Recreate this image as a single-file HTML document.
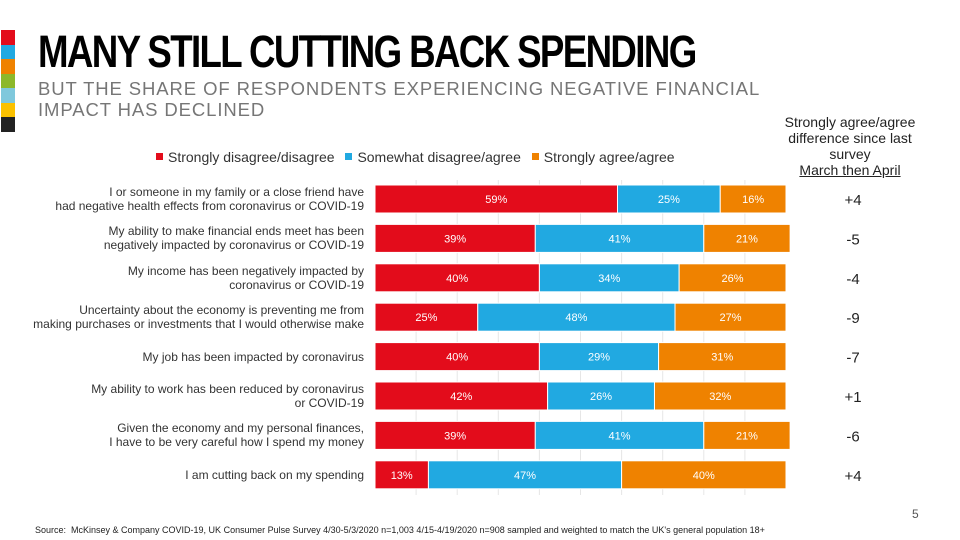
<!DOCTYPE html>
<html><head><meta charset="utf-8"><style>
body{margin:0;width:960px;height:540px;overflow:hidden;background:#fff;font-family:"Liberation Sans",sans-serif;position:relative}
.abs{position:absolute}
.lbl{position:absolute;right:596px;text-align:right;font-size:12px;color:#333;line-height:14px;width:360px}
</style></head><body>
<div class="abs" style="left:1px;top:30px;width:14px">
<div style="height:14.5px;background:#e30c1b"></div><div style="height:14.5px;background:#21a9e1"></div><div style="height:14.5px;background:#ef8200"></div><div style="height:14.5px;background:#8cb82b"></div><div style="height:14.5px;background:#7fc8dc"></div><div style="height:14.5px;background:#fbc100"></div><div style="height:14.5px;background:#222"></div>
</div>
<div class="abs" style="left:38px;top:26px;font-size:45px;font-weight:bold;letter-spacing:-2px;transform:scaleX(0.815);transform-origin:left top;white-space:nowrap;color:#000">MANY STILL CUTTING BACK SPENDING</div>
<div class="abs" style="left:38px;top:78px;font-size:18.5px;letter-spacing:0.9px;color:#767676;line-height:21px;width:740px">BUT THE SHARE OF RESPONDENTS EXPERIENCING NEGATIVE FINANCIAL IMPACT HAS DECLINED</div>
<div class="abs" style="left:770px;top:114px;width:160px;text-align:center;font-size:14px;line-height:16px;color:#222">Strongly agree/agree difference since last survey<br><u>March then April</u></div>
<div class="abs" style="left:156px;top:149px;font-size:14px;color:#333;white-space:nowrap">
<span><span style="display:inline-block;width:7px;height:7px;background:#e30c1b;margin-right:5px;vertical-align:2px"></span>Strongly disagree/disagree</span>
<span style="margin-left:7px"><span style="display:inline-block;width:7px;height:7px;background:#21a9e1;margin-right:5px;vertical-align:2px"></span>Somewhat disagree/agree</span>
<span style="margin-left:7px"><span style="display:inline-block;width:7px;height:7px;background:#ef8200;margin-right:5px;vertical-align:2px"></span>Strongly agree/agree</span>
</div>
<svg id="chart" class="abs" style="left:0;top:0" width="960" height="540"></svg>
<div id="labels"></div>
<div class="abs" style="left:912px;top:507px;font-size:12px;color:#555">5</div>
<div class="abs" style="left:35px;top:525px;font-size:9px;color:#222;white-space:nowrap">Source:&nbsp; McKinsey &amp; Company COVID-19, UK Consumer Pulse Survey 4/30-5/3/2020 n=1,003 4/15-4/19/2020 n=908 sampled and weighted to match the UK's general population 18+</div>
<script>
const categories=["I or someone in my family or a close friend have<br>had negative health effects from coronavirus or COVID-19","My ability to make financial ends meet has been<br>negatively impacted by coronavirus or COVID-19","My income has been negatively impacted by<br>coronavirus or COVID-19","Uncertainty about the economy is preventing me from<br>making purchases or investments that I would otherwise make","My job has been impacted by coronavirus","My ability to work has been reduced by coronavirus<br>or COVID-19","Given the economy and my personal finances,<br>I have to be very careful how I spend my money","I am cutting back on my spending"];
const disagree=[59,39,40,25,40,42,39,13];
const somewhat=[25,41,34,48,29,26,41,47];
const agree=[16,21,26,27,31,32,21,40];
const diffs=["+4","-5","-4","-9","-7","+1","-6","+4"];
const colors=["#e30c1b","#21a9e1","#ef8200"];
const X0=375,W=411,Y0=199,STEP=39.4,BH=28;
const xs=v=>v*W/100, yc=i=>Y0+i*STEP;
const svg=document.getElementById('chart'),NS="http://www.w3.org/2000/svg";
for(let g=1;g<10;g++){const l=document.createElementNS(NS,'line');


const x=X0+xs(g*10);l.setAttribute('x1',x);l.setAttribute('x2',x);l.setAttribute('y1',180);l.setAttribute('y2',495);l.setAttribute('stroke','#e6e6e6');svg.appendChild(l);}
const series=[disagree,somewhat,agree],names=['disagree','somewhat','agree'];
const lab=document.getElementById('labels');
categories.forEach((c,i)=>{
 let acc=0;
 series.forEach((s,k)=>{
  const r=document.createElementNS(NS,'rect');
  
  
  r.setAttribute('x',X0+xs(acc));r.setAttribute('y',yc(i)-BH/2);r.setAttribute('width',xs(s[i]));r.setAttribute('height',BH);r.setAttribute('fill',colors[k]);r.setAttribute('stroke','#fff');r.setAttribute('stroke-width','1');svg.appendChild(r);
  const t=document.createElementNS(NS,'text');
  
  
  t.setAttribute('x',X0+xs(acc+s[i]/2));t.setAttribute('y',yc(i)+4);t.setAttribute('text-anchor','middle');t.setAttribute('fill','#fff');t.setAttribute('font-size','11');t.setAttribute('font-family','Liberation Sans, sans-serif');t.textContent=s[i]+'%';svg.appendChild(t);
  acc+=s[i];
 });
 const d=document.createElementNS(NS,'text');
 
 
 d.setAttribute('x',853);d.setAttribute('y',yc(i)+6);d.setAttribute('text-anchor','middle');d.setAttribute('font-size','15');d.setAttribute('fill','#222');d.setAttribute('font-family','Liberation Sans, sans-serif');d.textContent=diffs[i];svg.appendChild(d);
 const dv=document.createElement('div');
 
 
 dv.className='lbl';dv.innerHTML=c;
 const lines=c.split('<br>').length;
 dv.style.top=(yc(i)-lines*7)+'px';
 lab.appendChild(dv);
});
</script>
</body></html>
